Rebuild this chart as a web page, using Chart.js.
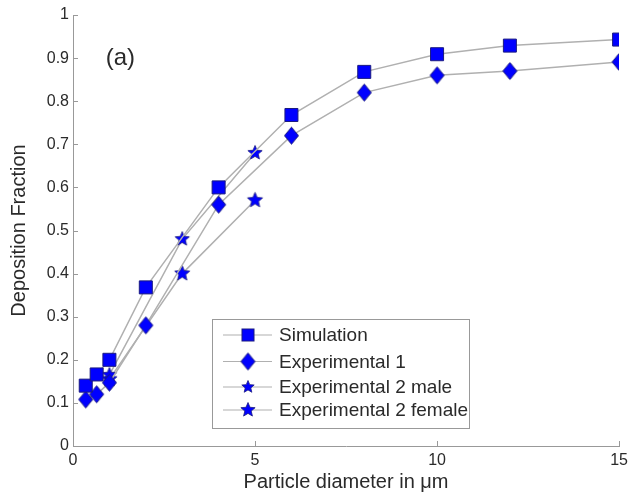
<!DOCTYPE html>
<html>
<head>
<meta charset="utf-8">
<script src="https://cdn.jsdelivr.net/npm/chart.js@4/dist/chart.umd.min.js"></script>
<style>
  body { margin: 0; background: #fff; }
  #wrap { width: 633px; height: 494px; }
</style>
</head>
<body>
<div id="wrap"><canvas id="my-canvas" width="633" height="494"></canvas></div>
<script>
// Datos
const simX = [0.35, 0.65, 1, 2, 4, 6, 8, 10, 12, 15]
const simY = [0.14, 0.166, 0.2, 0.368, 0.6, 0.768, 0.868, 0.909, 0.929, 0.943]

const exp1X = [0.35, 0.65, 1, 2, 4, 6, 8, 10, 12, 15]
const exp1Y = [0.108, 0.12, 0.147, 0.28, 0.56, 0.72, 0.82, 0.86, 0.87, 0.891]

const maleX = [1, 3, 5]
const maleY = [0.165, 0.48, 0.68]

const femaleX = [1, 3, 5]
const femaleY = [0.155, 0.40, 0.57]

const labels = ["Simulation", "Experimental 1", "Experimental 2 male", "Experimental 2 female"]
const yTicks = [0, 0.1, 0.2, 0.3, 0.4, 0.5, 0.6, 0.7, 0.8, 0.9, 1]
const xTicks = [0, 5, 10, 15]

const FONT = '"Liberation Sans", Arial, sans-serif'
const BLUE = '#0000ff'
const EDGE = '#1a1a80'
const LINE = '#b0b0b0'
const AXIS = '#999999'
const TEXT = '#2a2a2a'

function pts(xs, ys) {
  return xs.map((x, i) => ({ x: x, y: ys[i] }))
}

// estrella rellena para los puntos
function makeStar(R) {
  const c = document.createElement('canvas')
  const s = Math.ceil(R * 2 + 3)
  c.width = s
  c.height = s
  const g = c.getContext('2d')
  const cx = s / 2, cy = s / 2
  const r = R * 0.45
  g.beginPath()
  for (let i = 0; i < 10; i++) {
    const a = -Math.PI / 2 + i * Math.PI / 5
    const rr = i % 2 === 0 ? R : r
    const px = cx + rr * Math.cos(a)
    const py = cy + rr * Math.sin(a)
    if (i === 0) g.moveTo(px, py)
    else g.lineTo(px, py)
  }
  g.closePath()
  g.fillStyle = BLUE
  g.fill()
  g.lineWidth = 0.8
  g.strokeStyle = EDGE
  g.stroke()
  return c
}

// rombo un poco mas alto que ancho
function makeDiamond(w, h) {
  const c = document.createElement('canvas')
  c.width = Math.ceil(w * 2 + 3)
  c.height = Math.ceil(h * 2 + 3)
  const g = c.getContext('2d')
  const cx = c.width / 2, cy = c.height / 2
  g.beginPath()
  g.moveTo(cx - w, cy)
  g.lineTo(cx, cy - h)
  g.lineTo(cx + w, cy)
  g.lineTo(cx, cy + h)
  g.closePath()
  g.fillStyle = BLUE
  g.fill()
  g.lineWidth = 1
  g.strokeStyle = EDGE
  g.stroke()
  return c
}

const starMale = makeStar(7.5)
const starFemale = makeStar(8)
const starMaleLeg = makeStar(6.5)
const starFemaleLeg = makeStar(7.5)
const diamond = makeDiamond(7, 8.5)
const diamondLeg = makeDiamond(7, 8.5)

function drawSquare(ctx, x, y, half) {
  ctx.fillStyle = BLUE
  ctx.fillRect(x - half, y - half, half * 2, half * 2)
  ctx.strokeStyle = EDGE
  ctx.lineWidth = 1
  ctx.strokeRect(x - half, y - half, half * 2, half * 2)
}

// ticks hacia dentro, leyenda y etiqueta (a)
const extras = {
  id: 'extras',
  afterDraw(chart) {
    const ctx = chart.ctx
    const xs = chart.scales.x
    const ys = chart.scales.y
    const area = chart.chartArea
    ctx.save()
    ctx.strokeStyle = AXIS
    ctx.lineWidth = 1
    ctx.beginPath()
    yTicks.forEach(v => {
      const p = Math.round(ys.getPixelForValue(v)) + 0.5
      ctx.moveTo(area.left, p)
      ctx.lineTo(area.left + 5, p)
    })
    xTicks.forEach(v => {
      const p = Math.round(xs.getPixelForValue(v)) + 0.5
      ctx.moveTo(p, area.bottom)
      ctx.lineTo(p, area.bottom - 5)
    })
    ctx.stroke()

    // (a)
    ctx.fillStyle = TEXT
    ctx.font = '24px ' + FONT
    ctx.textAlign = 'center'
    ctx.textBaseline = 'middle'
    ctx.fillText('(a)', xs.getPixelForValue(1.3), ys.getPixelForValue(0.9))

    // leyenda
    const bx = 212.5, by = 319.5, bw = 257, bh = 109
    ctx.fillStyle = '#fff'
    ctx.fillRect(bx, by, bw, bh)
    ctx.strokeStyle = AXIS
    ctx.strokeRect(bx, by, bw, bh)
    const rows = [335, 361.5, 387, 410]
    ctx.font = '19px ' + FONT
    ctx.textAlign = 'left'
    rows.forEach((ry, i) => {
      ctx.strokeStyle = LINE
      ctx.lineWidth = 1.2
      ctx.beginPath()
      ctx.moveTo(223, ry)
      ctx.lineTo(272, ry)
      ctx.stroke()
      if (i === 0) drawSquare(ctx, 248, ry, 6)
      else {
        const img = i === 1 ? diamondLeg : (i === 2 ? starMaleLeg : starFemaleLeg)
        ctx.drawImage(img, 248 - img.width / 2, ry - img.height / 2)
      }
      ctx.fillStyle = TEXT
      ctx.fillText(labels[i], 279, ry + 1)
    })
    ctx.restore()
  }
}

const ctx = document.getElementById('my-canvas').getContext('2d')

const data = {
  datasets: [
    {
      label: labels[0],
      data: pts(simX, simY),
      borderColor: LINE,
      borderWidth: 1.5,
      pointStyle: 'rect',
      pointRadius: 9.2,
      pointBackgroundColor: BLUE,
      pointBorderColor: EDGE,
      pointBorderWidth: 1
    },
    {
      label: labels[1],
      data: pts(exp1X, exp1Y),
      borderColor: LINE,
      borderWidth: 1.5,
      pointStyle: diamond,
      pointRadius: 8.5
    },
    {
      label: labels[2],
      data: pts(maleX, maleY),
      borderColor: LINE,
      borderWidth: 1.5,
      pointStyle: starMale,
      pointRadius: 8
    },
    {
      label: labels[3],
      data: pts(femaleX, femaleY),
      borderColor: LINE,
      borderWidth: 1.5,
      pointStyle: starFemale,
      pointRadius: 8
    }
  ]
}

const options = {
  responsive: false,
  animation: false,
  layout: { padding: { top: 15, right: 11.5, left: 0, bottom: 0 } },
  plugins: { legend: { display: false }, tooltip: { enabled: false } },
  scales: {
    x: {
      type: 'linear',
      min: 0,
      max: 15,
      afterBuildTicks: s => { s.ticks = xTicks.map(v => ({ value: v })) },
      afterFit: s => { s.height = 48 },
      grid: { display: false, drawTicks: false },
      border: { display: true, color: AXIS, width: 1 },
      ticks: { color: TEXT, font: { family: FONT, size: 16 }, padding: 5, maxRotation: 0 },
      title: { display: true, text: 'Particle diameter in μm', color: TEXT, font: { family: FONT, size: 20 }, padding: { top: 2, bottom: 0 } }
    },
    y: {
      type: 'linear',
      min: 0,
      max: 1,
      afterBuildTicks: s => { s.ticks = yTicks.map(v => ({ value: v })) },
      afterFit: s => { s.width = 73 },
      grid: { display: false, drawTicks: false },
      border: { display: true, color: AXIS, width: 1 },
      ticks: { color: TEXT, font: { family: FONT, size: 16 }, padding: 4, callback: v => String(Math.round(v * 10) / 10) },
      title: { display: true, text: 'Deposition Fraction', color: TEXT, font: { family: FONT, size: 20 }, padding: { top: 7, bottom: 0 } }
    }
  }
}

new Chart(ctx, {
  type: 'line',
  data: data,
  options: options,
  plugins: [extras]
})
</script>
</body>
</html>
